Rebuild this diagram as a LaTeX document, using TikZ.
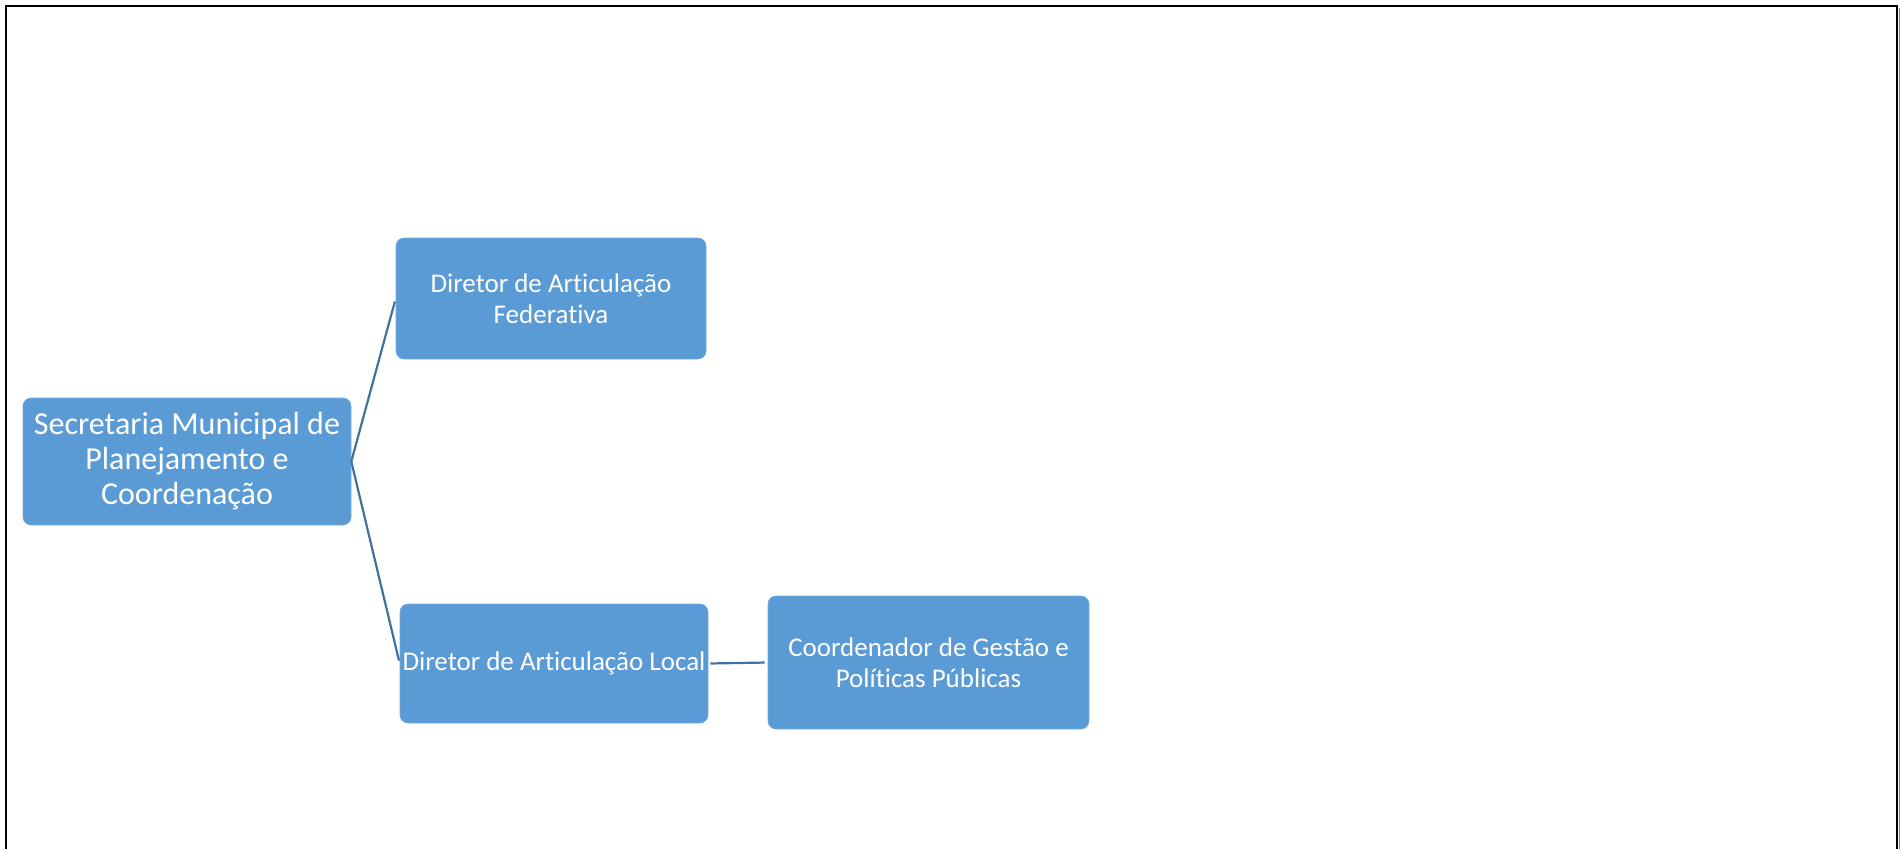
\documentclass[tikz,border=0pt]{standalone}
\usepackage{fontspec}
\setmainfont{Carlito}[Ligatures=NoCommon]
\usetikzlibrary{positioning}
\definecolor{boxblue}{HTML}{5B9BD5}
\definecolor{lineblue}{HTML}{41719C}
\begin{document}
\begin{tikzpicture}[x=1pt,y=-1pt,
		orgbox/.style={fill=boxblue, draw=boxblue!85!white, line width=0.6pt, rounded corners=8pt, text=white, align=center, inner sep=2pt},
		link/.style={draw=lineblue, line width=2.2pt, shorten >=3pt}]
				\useasboundingbox (0,0) rectangle (1903,849);
				\draw [line width=2pt] (6,849) -- (6,6) -- (1897,6) -- (1897,849);
				\draw [line width=1pt, gray] (1899.5,8) -- (1899.5,849);
				\node (secretaria) [orgbox, minimum width=328pt, minimum height=127pt, font=\fontsize{32}{35}\selectfont] at (187,461.5) {Secretaria Municipal de\\Planejamento e\\Coordenação};
				\node (federativa) [orgbox, minimum width=310pt, minimum height=121pt, font=\fontsize{27}{31}\selectfont] at (551,298.5) {Diretor de Articulação\\Federativa};
				\node (local) [orgbox, minimum width=308pt, minimum height=119pt, font=\fontsize{27}{31}\selectfont] at (554,663.5) {Diretor de Articulação Local};
				\node (gestao) [orgbox, minimum width=321pt, minimum height=133pt, font=\fontsize{27}{31}\selectfont] at (928.5,662.5) {Coordenador de Gestão e\\Políticas Públicas};
				\draw [link] (secretaria.east) -- (federativa.west);
				\draw [link] (secretaria.east) -- (local.west);
				\draw [link, shorten <=2pt] (local.east) -- (gestao.west);
			\end{tikzpicture}
\end{document}
